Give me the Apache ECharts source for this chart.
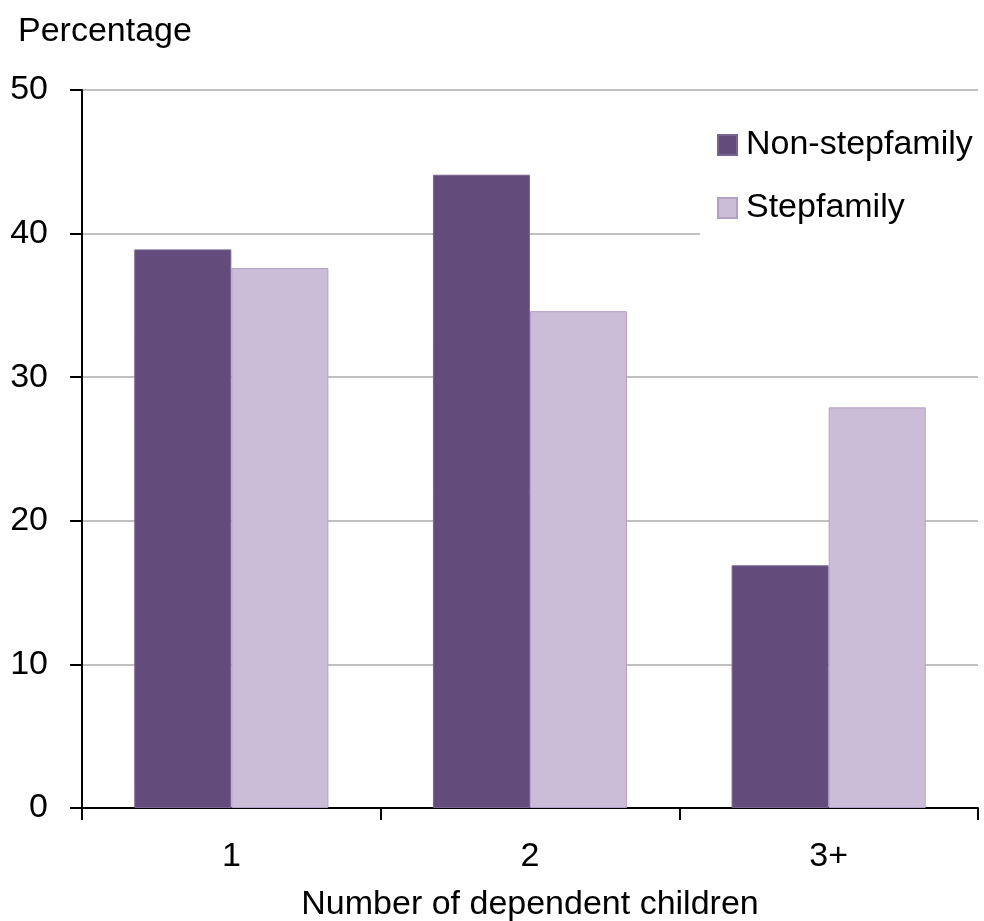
<!DOCTYPE html>
<html>
<head>
    <meta charset="utf-8">
    <title>ECharts</title>
    <script src="https://cdn.jsdelivr.net/npm/echarts@6/dist/echarts.min.js"></script>
</head>
<body style="margin:0;background:#fff;">
<div id="main" style="width: 984px;height:921px;"></div>
<script type="text/javascript">
    // data
    var categories = ['1', '2', '3+'];
    var nonStepfamily = [38.9, 44.1, 16.9];
    var stepfamily = [37.6, 34.6, 27.9];

    var font = '"Liberation Sans", Arial, sans-serif';
    var myChart = echarts.init(document.getElementById('main'));
    var option = {
        animation: false,
        title: {
            text: 'Percentage',
            left: 13,
            top: 10,
            textStyle: { fontFamily: font, fontSize: 34, fontWeight: 'normal', color: '#000' }
        },
        legend: {
            data: ['Non-stepfamily', 'Stepfamily'],
            orient: 'vertical',
            left: 700,
            top: 100,
            padding: [28, 12, 15, 17],
            backgroundColor: '#fff',
            icon: 'rect',
            itemWidth: 19,
            itemHeight: 20,
            itemGap: 29,
            textStyle: { fontFamily: font, fontSize: 34, color: '#000', padding: [0, 0, 0, 4] }
        },
        grid: { left: 82, right: 6, top: 90, bottom: 113, outerBoundsMode: 'none' },
        xAxis: {
            type: 'category',
            data: categories,
            name: 'Number of dependent children',
            nameLocation: 'middle',
            nameGap: 80,
            nameTextStyle: { fontFamily: font, fontSize: 34, color: '#000' },
            axisLine: { lineStyle: { color: '#000', width: 2 } },
            axisTick: { show: true, length: 12, lineStyle: { color: '#000', width: 2 } },
            axisLabel: { fontFamily: font, fontSize: 34, color: '#000', margin: 32 }
        },
        yAxis: {
            type: 'value',
            min: 0,
            max: 50,
            interval: 10,
            axisLine: { show: true, lineStyle: { color: '#000', width: 2 } },
            axisTick: { show: true, length: 12, lineStyle: { color: '#000', width: 2 } },
            axisLabel: { fontFamily: font, fontSize: 34, color: '#000', margin: 34 },
            splitLine: { lineStyle: { color: '#c0c0c0', width: 2 } }
        },
        series: [
            {
                name: 'Non-stepfamily',
                type: 'bar',
                data: nonStepfamily,
                barGap: '0%',
                barCategoryGap: '35%',
                itemStyle: { color: '#634b7c', borderColor: '#7a6592', borderWidth: 1 }
            },
            {
                name: 'Stepfamily',
                type: 'bar',
                data: stepfamily,
                barGap: '0%',
                barCategoryGap: '35%',
                itemStyle: { color: '#cbbdd8', borderColor: '#b3a0c5', borderWidth: 1 }
            }
        ]
    };
    myChart.setOption(option);
</script>
</body>
</html>
